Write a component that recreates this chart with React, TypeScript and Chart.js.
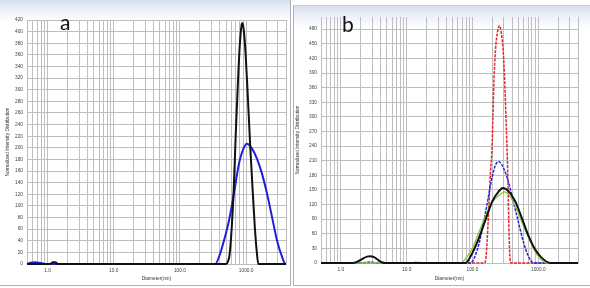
import React, { useEffect, useRef } from 'react';
import { Chart, registerables } from 'chart.js';

Chart.register(...registerables);

// ---------- Panel a data (diameter nm -> normalized intensity) ----------
const A_BLACK_D = [0.49, 1.1, 1.2, 1.3, 1.45, 500, 530, 560, 600, 650, 700, 750, 800, 850, 880, 920, 980, 1050, 1150, 1250, 1350, 1450, 1530, 4000];
const A_BLACK_Y = [0, 0, 3, 3, 0, 0, 4, 15, 55, 130, 230, 310, 375, 410, 415, 403, 363, 298, 205, 130, 65, 20, 0, 0];
const A_BLUE_D = [0.49, 0.55, 0.65, 0.75, 0.85, 0.95, 340, 405, 480, 540, 605, 680, 765, 860, 1025, 1220, 1450, 1730, 2060, 2450, 2920, 3470, 3950, 4000];
const A_BLUE_Y = [0, 2, 3, 2, 1, 0, 0, 18, 47, 70, 99, 133, 168, 191, 207, 199, 182, 156, 122, 82, 41, 13, 0, 0];

// ---------- Panel b data ----------
const B_BLACK_D = [0.5, 1.5, 1.8, 2.1, 2.5, 2.8, 3.2, 3.7, 4.3, 4.8, 78, 99, 125, 157, 199, 250, 288, 355, 448, 566, 712, 900, 1140, 1520, 4000];
const B_BLACK_Y = [0, 0, 3, 8, 13, 14, 12, 6, 1, 0, 0, 20, 51, 88, 126, 147, 154, 147, 126, 91, 55, 27, 10, 0, 0];
const B_BLUE_D = [0.5, 2.0, 2.8, 3.5, 12, 14, 17, 93, 118, 140, 167, 199, 223, 250, 298, 355, 422, 502, 599, 712, 848, 4000];
const B_BLUE_Y = [0, 0, 2, 0, 0, 1.5, 0, 0, 27, 68, 122, 177, 201, 208, 194, 164, 123, 82, 41, 13, 0, 0];
const B_RED_D = [0.5, 150, 157, 167, 177, 187, 199, 204, 211, 223, 240, 257, 275, 292, 309, 322, 334, 342, 350, 357, 367, 385, 4000];
const B_RED_Y = [0, 0, 3, 47, 115, 184, 245, 300, 369, 437, 475, 487, 470, 437, 369, 300, 239, 190, 130, 75, 20, 0, 0];
const B_GREEN_D = [0.5, 66, 83, 105, 132, 167, 211, 266, 305, 376, 475, 599, 756, 954, 1360, 4000];
const B_GREEN_Y = [0, 0, 13, 37, 71, 105, 129, 141, 146, 136, 109, 75, 44, 17, 0, 0];

// ---------- Axis settings ----------
const A_X_RANGE = [0.49, 4000];
const B_X_RANGE = [0.5, 4000];
const A_Y_MAX = 420;
const A_Y_STEP = 20;
const B_Y_MAX = 505;
const B_Y_TOP_TICK = 480;
const B_Y_STEP = 30;
const X_TITLE = 'Diameter(nm)';
const Y_TITLE = 'Normalized Intensity Distribution';

const GRID = 'rgb(190,190,190)';
const TICK_FONT = { family: '"Liberation Sans", Arial, sans-serif', size: 4.8 };

function pts(d: number[], y: number[]) {
  return d.map((x, i) => ({ x, y: y[i] }));
}

function logGrid(min: number, max: number) {
  const out: number[] = [];
  for (let e = -1; e <= 4; e++) {
    for (let m = 1; m <= 9; m++) {
      const v = +(m * Math.pow(10, e)).toPrecision(3);
      if (v >= min - 1e-9 && v <= max + 1e-9) out.push(v);
    }
  }
  return out;
}

function isDecade(v: number) {
  const l = Math.log10(v);
  return Math.abs(l - Math.round(l)) < 1e-9;
}

function linTicks(max: number, step: number) {
  const out: number[] = [];
  for (let v = 0; v <= max + 1e-9; v += step) out.push(v);
  return out;
}

function makeOptions(o: {
  xRange: number[];
  yMax: number;
  yTicks: number[];
  padding: any;
  yWidth: number;
  xHeight: number;
  yTitlePad: number;
}) {
  const xg = logGrid(o.xRange[0], o.xRange[1]);
  return {
    responsive: false,
    animation: false as const,
    layout: { padding: o.padding },
    plugins: { legend: { display: false }, tooltip: { enabled: false } },
    elements: { point: { radius: 0 } },
    scales: {
      x: {
        type: 'logarithmic' as const,
        min: o.xRange[0],
        max: o.xRange[1],
        afterBuildTicks: (s: any) => {
          s.ticks = xg.map((v) => ({ value: v }));
        },
        afterFit: (s: any) => {
          s.height = o.xHeight;
        },
        grid: { display: true, drawOnChartArea: true, color: GRID, lineWidth: 1, drawTicks: false },
        border: { color: GRID },
        ticks: {
          autoSkip: false,
          maxRotation: 0,
          padding: 4,
          color: '#444',
          font: TICK_FONT,
          callback: (v: any) => (isDecade(Number(v)) ? Number(v).toFixed(1) : ''),
        },
        title: {
          display: true,
          text: X_TITLE,
          color: '#333',
          font: TICK_FONT,
          padding: { top: 0, bottom: 4.7 },
        },
      },
      y: {
        type: 'linear' as const,
        min: 0,
        max: o.yMax,
        afterBuildTicks: (s: any) => {
          s.ticks = o.yTicks.map((v) => ({ value: v }));
        },
        afterFit: (s: any) => {
          s.width = o.yWidth;
        },
        grid: { display: true, drawOnChartArea: true, color: GRID, lineWidth: 1, drawTicks: false },
        border: { color: GRID },
        ticks: { padding: 4, color: '#444', font: TICK_FONT },
        title: {
          display: true,
          text: Y_TITLE,
          color: '#333',
          font: TICK_FONT,
          padding: { top: o.yTitlePad, bottom: 0 },
        },
      },
    },
  };
}

function line(data: any, color: string, width: number, dash: number[] = []) {
  return {
    data,
    borderColor: color,
    borderWidth: width,
    borderDash: dash,
    fill: false,
    cubicInterpolationMode: 'monotone' as const,
    clip: false as const,
    pointRadius: 0,
  };
}

export default function App() {
  const refA = useRef<HTMLCanvasElement | null>(null);
  const refB = useRef<HTMLCanvasElement | null>(null);

  useEffect(() => {
    const chartA = new Chart(refA.current!, {
      type: 'line',
      data: {
        datasets: [
          line(pts(A_BLACK_D, A_BLACK_Y), '#111111', 2),
          line(pts(A_BLUE_D, A_BLUE_Y), '#1f1fd6', 2),
        ],
      },
      options: makeOptions({
        xRange: A_X_RANGE,
        yMax: A_Y_MAX,
        yTicks: linTicks(A_Y_MAX, A_Y_STEP),
        padding: { left: 0, right: 3, top: 20, bottom: 0 },
        yWidth: 27,
        xHeight: 22,
        yTitlePad: 4.7,
      }) as any,
    });
    const chartB = new Chart(refB.current!, {
      type: 'line',
      data: {
        datasets: [
          line(pts(B_BLACK_D, B_BLACK_Y), '#111111', 2),
          line(pts(B_GREEN_D, B_GREEN_Y), '#86c440', 1.3),
          line(pts(B_BLUE_D, B_BLUE_Y), '#2424d8', 1.5, [3, 1.2]),
          line(pts(B_RED_D, B_RED_Y), '#e3242b', 1.5, [3, 1.2]),
        ],
      },
      options: makeOptions({
        xRange: B_X_RANGE,
        yMax: B_Y_MAX,
        yTicks: linTicks(B_Y_TOP_TICK, B_Y_STEP),
        padding: { left: 0, right: 12, top: 17, bottom: 0 },
        yWidth: 28,
        xHeight: 23,
        yTitlePad: 1.7,
      }) as any,
    });
    return () => {
      chartA.destroy();
      chartB.destroy();
    };
  }, []);

  const panelBg = 'linear-gradient(to bottom, #d6dfeb 0px, #e9eef6 8px, #ffffff 22px)';
  const letter: React.CSSProperties = {
    position: 'absolute',
    fontFamily: 'Lato, "Open Sans", sans-serif',
    fontSize: 21,
    color: '#111',
    lineHeight: 1,
  };

  return (
    <div style={{ position: 'fixed', left: 0, top: 0, width: 590, height: 288, background: '#fff', overflow: 'hidden' }}>
      <div
        style={{
          position: 'absolute',
          left: 0,
          top: 0,
          width: 290,
          height: 285,
          background: panelBg,
          borderRight: '1px solid #b0b0b0',
          borderBottom: '1px solid #b0b0b0',
        }}
      />
      <div
        style={{
          position: 'absolute',
          left: 293,
          top: 5,
          width: 297,
          height: 279,
          background: panelBg,
          borderLeft: '1px solid #b0b0b0',
          borderTop: '1px solid #c8d0dc',
          borderBottom: '1px solid #b0b0b0',
        }}
      />
      <canvas ref={refA} width={290} height={286} style={{ position: 'absolute', left: 0, top: 0, width: 290, height: 286 }} />
      <canvas ref={refB} width={297} height={286} style={{ position: 'absolute', left: 293, top: 0, width: 297, height: 286 }} />
      <div style={{ ...letter, left: 60, top: 11 }}>a</div>
      <div style={{ ...letter, left: 342, top: 13 }}>b</div>
    </div>
  );
}
